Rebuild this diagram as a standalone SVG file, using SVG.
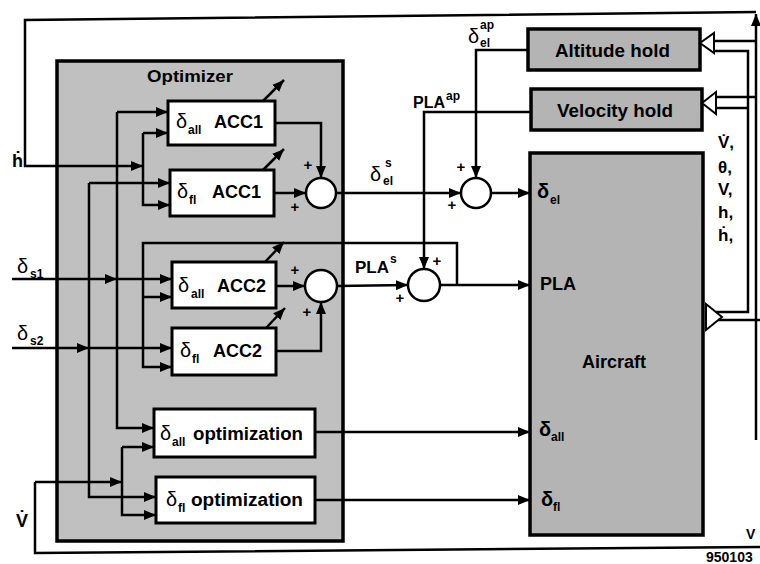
<svg xmlns="http://www.w3.org/2000/svg" width="760" height="564" viewBox="0 0 760 564">
<defs>
<marker id="ah" viewBox="0 0 12 10" refX="12" refY="5" markerWidth="12" markerHeight="10" markerUnits="userSpaceOnUse" orient="auto"><path d="M0,0 L12,5 L0,10 z" fill="#000"/></marker>
<style>
.ln{fill:none;stroke:#000;stroke-width:2.5}
.ar{fill:none;stroke:#000;stroke-width:2.5;marker-end:url(#ah)}
.wb{fill:#fff;stroke:#000;stroke-width:3}
.gb{fill:#b4b4b4;stroke:#000;stroke-width:3.5}
.ci{fill:#fff;stroke:#000;stroke-width:2.5}
.tri{fill:#fff;stroke:#000;stroke-width:2}
text{font-family:"Liberation Sans",Arial,sans-serif;font-weight:700;fill:#000}
.d{font-weight:400;font-size:20px}
.db{font-size:20px}
.lb{font-size:18px}
.sb{font-size:12px}
.sp{font-size:12px}
.pl{font-size:15px;text-anchor:middle}
</style>
</defs>
<rect width="760" height="564" fill="#fff"/>

<g id="optimizer">
<rect x="57" y="61" width="286" height="480" fill="#c0c0c0" stroke="#000" stroke-width="3.5"/>
<text x="147" y="82" font-size="17" textLength="86" lengthAdjust="spacingAndGlyphs">Optimizer</text>
</g>

<g id="acc1-all">
<rect class="wb" x="168" y="101" width="107" height="44"/>
<text x="176" y="128" class="d">δ</text><text x="188" y="134" class="sb">all</text><text x="214" y="128" class="lb">ACC1</text>
</g>
<g id="acc1-fl">
<rect class="wb" x="170" y="170" width="104" height="46"/>
<text x="177" y="198" class="d">δ</text><text x="189" y="204" class="sb">fl</text><text x="212" y="198" class="lb">ACC1</text>
</g>
<g id="acc2-all">
<rect class="wb" x="172" y="262" width="104" height="46"/>
<text x="178" y="292" class="d">δ</text><text x="191" y="298" class="sb">all</text><text x="217" y="292" class="lb">ACC2</text>
</g>
<g id="acc2-fl">
<rect class="wb" x="172" y="328" width="104" height="47"/>
<text x="180" y="357" class="d">δ</text><text x="192" y="363" class="sb">fl</text><text x="213" y="357" class="lb">ACC2</text>
</g>
<g id="opt-all">
<rect class="wb" x="154" y="409" width="161" height="48"/>
<text x="160" y="440" class="d">δ</text><text x="172" y="446" class="sb">all</text><text x="193" y="440" class="lb" textLength="110" lengthAdjust="spacingAndGlyphs">optimization</text>
</g>
<g id="opt-fl">
<rect class="wb" x="156" y="477" width="159" height="46"/>
<text x="166" y="506" class="d">δ</text><text x="178" y="512" class="sb">fl</text><text x="191" y="506" class="lb" textLength="112" lengthAdjust="spacingAndGlyphs">optimization</text>
</g>

<g id="sum-acc1"><circle class="ci" cx="321" cy="193" r="15"/>
<text x="308" y="170" class="pl">+</text><text x="295" y="212" class="pl">+</text></g>
<g id="sum-acc2"><circle class="ci" cx="321" cy="286" r="16"/>
<text x="295" y="275" class="pl">+</text><text x="307" y="317" class="pl">+</text></g>
<g id="sum-el"><circle class="ci" cx="476" cy="193" r="15"/>
<text x="461" y="172" class="pl">+</text><text x="452" y="210" class="pl">+</text></g>
<g id="sum-pla"><circle class="ci" cx="424" cy="285" r="16"/>
<text x="437" y="266" class="pl">+</text><text x="400" y="303" class="pl">+</text></g>

<g id="altitude-hold">
<rect class="gb" x="528" y="29" width="172" height="41"/>
<text x="555" y="57" class="lb" textLength="115" lengthAdjust="spacingAndGlyphs">Altitude hold</text>
<polygon class="tri" points="700,43 714,33 714,53"/>
</g>
<g id="velocity-hold">
<rect class="gb" x="531" y="89" width="171" height="41"/>
<text x="557" y="117" class="lb" textLength="116" lengthAdjust="spacingAndGlyphs">Velocity hold</text>
<polygon class="tri" points="702,103 716,92 716,114"/>
</g>
<g id="aircraft">
<rect class="gb" x="530" y="153" width="173" height="382"/>
<text x="537" y="198" class="db">δ</text><text x="550" y="204" class="sb">el</text>
<text x="540" y="290" class="lb">PLA</text>
<text x="582" y="368" class="lb">Aircraft</text>
<text x="539" y="436" class="db">δ</text><text x="551" y="441" class="sb">all</text>
<text x="541" y="506" class="db">δ</text><text x="553" y="511" class="sb">fl</text>
<polygon class="tri" points="706,304 722,317 706,330"/>
</g>

<g id="connectors">
<path class="ar" d="M756,440 V14"/>
<path class="ar" d="M756,12 L25,20 V166 H143"/>
<path class="ar" d="M143,133 H168"/>
<path class="ar" d="M143,133 V205 H170"/>
<path class="ar" d="M117,112 V428 H154"/>
<path class="ar" d="M117,112 H168"/>
<path class="ar" d="M89,183 V497 H156"/>
<path class="ar" d="M89,183 H170"/>
<path class="ar" d="M12,279 H117"/>
<path class="ar" d="M117,279 H172"/>
<path class="ar" d="M12,348 H89"/>
<path class="ar" d="M89,348 H172"/>
<path class="ar" d="M457,285 V243 H143 V367 H172"/>
<path class="ar" d="M143,297 H172"/>
<path class="ar" d="M35,482 H122"/>
<path class="ar" d="M122,447 V515 H156"/>
<path class="ar" d="M122,447 H154"/>
<path class="ln" d="M35,482 V553 L760,547"/>
<path class="ar" d="M275,123 H321 V178"/>
<path class="ar" d="M274,193 H306"/>
<path class="ar" d="M336,193 H461"/>
<path class="ar" d="M528,50 H476 V178"/>
<path class="ar" d="M491,193 H530"/>
<path class="ar" d="M276,286 H305"/>
<path class="ar" d="M276,351 H321 V302"/>
<path class="ar" d="M337,286 L408,285"/>
<path class="ar" d="M531,112 H424 V269"/>
<path class="ar" d="M440,285 H530"/>
<path class="ar" d="M315,432 H530"/>
<path class="ar" d="M315,500 H530"/>
<path class="ln" d="M714,41 H756"/>
<path class="ln" d="M714,51 H748 V312 H716"/>
<path class="ln" d="M716,97 H756"/>
<path class="ln" d="M716,108 H748"/>
<path class="ln" d="M718,320 H760"/>
<path class="ar" d="M263,101 L284,80"/>
<path class="ar" d="M263,170 L284,149"/>
<path class="ar" d="M265,262 L284,242"/>
<path class="ar" d="M266,328 L285,308"/>
</g>

<g id="labels">
<text x="12" y="167" font-size="18">ḣ</text>
<text x="17" y="273" class="d">δ</text><text x="30" y="278" class="sb">s1</text>
<text x="17" y="340" class="d">δ</text><text x="30" y="345" class="sb">s2</text>
<text x="16" y="527" font-size="18">V&#x307;</text>
<text x="370" y="181" class="d">δ</text><text x="385" y="167" class="sp">s</text><text x="383" y="185" class="sb">el</text>
<text x="355" y="273" font-size="17">PLA</text><text x="390" y="263" class="sp">s</text>
<text x="468" y="43" class="d">δ</text><text x="480" y="29" class="sp">ap</text><text x="480" y="47" class="sb">el</text>
<text x="413" y="108" font-size="16">PLA</text><text x="446" y="100" class="sp">ap</text>
<text x="718" y="148" font-size="17">V&#x307;,</text>
<text x="718" y="173" font-size="17">θ,</text>
<text x="718" y="195" font-size="17">V,</text>
<text x="718" y="218" font-size="17">h,</text>
<text x="718" y="241" font-size="17">ḣ,</text>
<text x="746" y="539" font-size="14">V</text>
<text x="706" y="562" font-size="14">950103</text>
</g>
</svg>
